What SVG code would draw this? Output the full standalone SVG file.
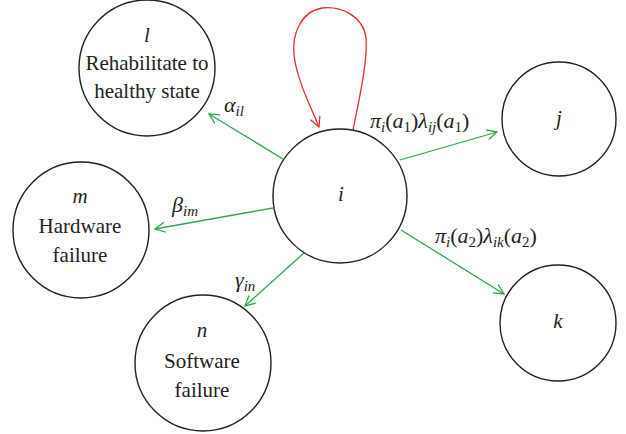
<svg xmlns="http://www.w3.org/2000/svg" width="626" height="434" viewBox="0 0 626 434">
<style>
.node{fill:#fff;stroke:#222;stroke-width:1.4}
.t{font-family:"Liberation Serif","Times New Roman",serif;font-size:21px;fill:#231f20;text-anchor:middle}
.it{font-style:italic}
.lab{font-family:"Liberation Serif","Times New Roman",serif;font-size:22px;fill:#231f20;font-style:italic}
.sub{font-size:15px}
.up{font-style:normal}
.g{stroke:#2ea84a;stroke-width:1.3;fill:none}
.r{stroke:#e8302a;stroke-width:1.3;fill:none}
</style>
<defs>
<marker id="ag" markerWidth="12" markerHeight="12" refX="11" refY="6" orient="auto" markerUnits="userSpaceOnUse">
<path d="M1,1 L11,6 L1,11" fill="none" stroke="#2ea84a" stroke-width="1.3"/>
</marker>
<marker id="ar" markerWidth="12" markerHeight="12" refX="11" refY="6" orient="auto" markerUnits="userSpaceOnUse">
<path d="M1,1 L11,6 L1,11" fill="none" stroke="#e8302a" stroke-width="1.3"/>
</marker>
</defs>
<g id="connectors">
<line class="g" x1="283" y1="159" x2="209" y2="114" marker-end="url(#ag)"/>
<line class="g" x1="273" y1="208" x2="155" y2="229" marker-end="url(#ag)"/>
<line class="g" x1="304" y1="253" x2="245" y2="306" marker-end="url(#ag)"/>
<line class="g" x1="400" y1="160" x2="497" y2="132" marker-end="url(#ag)"/>
<line class="g" x1="401" y1="230" x2="504" y2="294" marker-end="url(#ag)"/>
<path class="r" d="M353,130 C359,100 368,60 366,38 C363,15 340,6 322,8 C300,12 292,35 294,55 C297,80 310,105 319,127" marker-end="url(#ar)"/>
<text class="lab" x="224" y="112">α<tspan class="sub" dy="4">il</tspan></text>
<text class="lab" x="172" y="212">β<tspan class="sub" dy="4">im</tspan></text>
<text class="lab" x="235" y="287">γ<tspan class="sub" dy="4">in</tspan></text>
<text class="lab" x="370" y="128">π<tspan class="sub" dy="4">i</tspan><tspan dy="-4" class="up">(</tspan>a<tspan class="sub up" dy="4">1</tspan><tspan dy="-4" class="up">)</tspan>λ<tspan class="sub" dy="4">ij</tspan><tspan dy="-4" class="up">(</tspan>a<tspan class="sub up" dy="4">1</tspan><tspan dy="-4" class="up">)</tspan></text>
<text class="lab" x="435" y="243">π<tspan class="sub" dy="4">i</tspan><tspan dy="-4" class="up">(</tspan>a<tspan class="sub up" dy="4">2</tspan><tspan dy="-4" class="up">)</tspan>λ<tspan class="sub" dy="4">ik</tspan><tspan dy="-4" class="up">(</tspan>a<tspan class="sub up" dy="4">2</tspan><tspan dy="-4" class="up">)</tspan></text>
</g>
<g id="node-l">
<circle class="node" cx="147" cy="68" r="68"/>
<text class="t it" x="147" y="42">l</text>
<text class="t" x="147" y="70">Rehabilitate to</text>
<text class="t" x="147" y="98">healthy state</text>
</g>
<g id="node-i">
<circle class="node" cx="340" cy="196" r="67"/>
<text class="t it" x="341" y="201">i</text>
</g>
<g id="node-j">
<circle class="node" cx="559" cy="119" r="57"/>
<text class="t it" x="559" y="125">j</text>
</g>
<g id="node-k">
<circle class="node" cx="558" cy="323" r="58"/>
<text class="t it" x="558" y="328">k</text>
</g>
<g id="node-m">
<circle class="node" cx="81" cy="230" r="68"/>
<text class="t it" x="80" y="203">m</text>
<text class="t" x="80" y="233">Hardware</text>
<text class="t" x="80" y="262">failure</text>
</g>
<g id="node-n">
<circle class="node" cx="203" cy="363" r="68"/>
<text class="t it" x="202" y="337">n</text>
<text class="t" x="202" y="368">Software</text>
<text class="t" x="202" y="397">failure</text>
</g>
</svg>
